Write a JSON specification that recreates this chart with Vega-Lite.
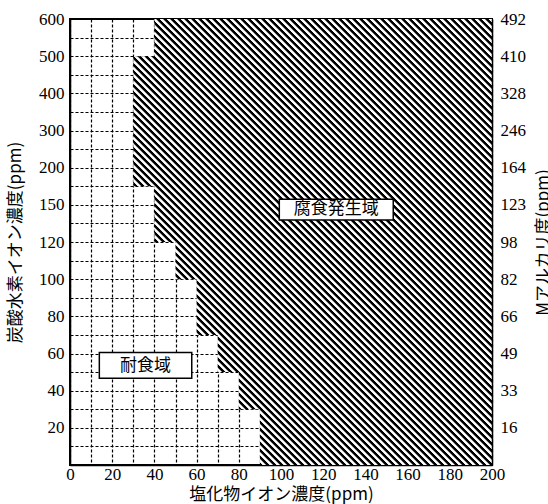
{
  "$schema": "https://vega.github.io/schema/vega-lite/v6.json",
  "width": 422,
  "height": 446,
  "autosize": {"type": "none"},
  "padding": {"left": 70, "top": 19, "right": 56, "bottom": 39},
  "background": "#ffffff",
  "config": {
    "view": {"stroke": "#000", "strokeWidth": 2},
    "axis": {
      "labelFont": "Liberation Sans Narrow",
      "labelFontSize": 17,
      "labelColor": "#000",
      "titleFont": "Noto Sans CJK JP",
      "titleFontSize": 17,
      "titleFontWeight": "normal",
      "titleColor": "#000",
      "ticks": false,
      "tickSize": 0,
      "domainColor": "#000",
      "domainWidth": 1.5,
      "gridColor": "#000",
      "gridDash": [3, 2],
      "gridWidth": 1.2,
      "gridOpacity": 1
    }
  },
  "datasets": {
    "boundary": [
      {"bicarbonate_ppm": 0, "chloride_ppm": 90},
      {"bicarbonate_ppm": 30, "chloride_ppm": 80},
      {"bicarbonate_ppm": 50, "chloride_ppm": 70},
      {"bicarbonate_ppm": 70, "chloride_ppm": 60},
      {"bicarbonate_ppm": 100, "chloride_ppm": 50},
      {"bicarbonate_ppm": 120, "chloride_ppm": 40},
      {"bicarbonate_ppm": 175, "chloride_ppm": 30},
      {"bicarbonate_ppm": 500, "chloride_ppm": 40},
      {"bicarbonate_ppm": 600, "chloride_ppm": 40}
    ],
    "zones": [
      {"name": "腐食発生域", "chloride_ppm": 126.2, "bicarbonate_ppm": 146.5, "box_cl_min": 99.2, "box_cl_max": 153.2, "box_hco3_min": 137.8, "box_hco3_max": 157.4},
      {"name": "耐食域", "chloride_ppm": 35.8, "bicarbonate_ppm": 53.4, "box_cl_min": 13.9, "box_cl_max": 57.7, "box_hco3_min": 46.7, "box_hco3_max": 60.6}
    ]
  },
  "resolve": {"axis": {"x": "independent", "y": "independent"}},
  "layer": [
    {
      "data": {"name": "boundary"},
      "mark": {
        "type": "area",
        "orient": "horizontal",
        "interpolate": "step-after",
        "fill": {
          "gradient": "linear",
          "x1": 0, "y1": 1, "x2": 0.958, "y2": -0.191,
          "stops": [
            {"offset":0.0004,"color":"#000"},{"offset":0.0032,"color":"#000"},{"offset":0.0044,"color":"#fff"},{"offset":0.0072,"color":"#fff"},
            {"offset":0.0084,"color":"#000"},{"offset":0.0112,"color":"#000"},{"offset":0.0124,"color":"#fff"},{"offset":0.0152,"color":"#fff"},
            {"offset":0.0164,"color":"#000"},{"offset":0.0192,"color":"#000"},{"offset":0.0204,"color":"#fff"},{"offset":0.0232,"color":"#fff"},
            {"offset":0.0244,"color":"#000"},{"offset":0.0272,"color":"#000"},{"offset":0.0284,"color":"#fff"},{"offset":0.0312,"color":"#fff"},
            {"offset":0.0324,"color":"#000"},{"offset":0.0352,"color":"#000"},{"offset":0.0364,"color":"#fff"},{"offset":0.0392,"color":"#fff"},
            {"offset":0.0404,"color":"#000"},{"offset":0.0432,"color":"#000"},{"offset":0.0444,"color":"#fff"},{"offset":0.0472,"color":"#fff"},
            {"offset":0.0484,"color":"#000"},{"offset":0.0512,"color":"#000"},{"offset":0.0524,"color":"#fff"},{"offset":0.0552,"color":"#fff"},
            {"offset":0.0564,"color":"#000"},{"offset":0.0592,"color":"#000"},{"offset":0.0604,"color":"#fff"},{"offset":0.0632,"color":"#fff"},
            {"offset":0.0644,"color":"#000"},{"offset":0.0672,"color":"#000"},{"offset":0.0684,"color":"#fff"},{"offset":0.0712,"color":"#fff"},
            {"offset":0.0724,"color":"#000"},{"offset":0.0752,"color":"#000"},{"offset":0.0764,"color":"#fff"},{"offset":0.0792,"color":"#fff"},
            {"offset":0.0804,"color":"#000"},{"offset":0.0832,"color":"#000"},{"offset":0.0844,"color":"#fff"},{"offset":0.0872,"color":"#fff"},
            {"offset":0.0884,"color":"#000"},{"offset":0.0912,"color":"#000"},{"offset":0.0924,"color":"#fff"},{"offset":0.0952,"color":"#fff"},
            {"offset":0.0964,"color":"#000"},{"offset":0.0992,"color":"#000"},{"offset":0.1004,"color":"#fff"},{"offset":0.1032,"color":"#fff"},
            {"offset":0.1044,"color":"#000"},{"offset":0.1072,"color":"#000"},{"offset":0.1084,"color":"#fff"},{"offset":0.1112,"color":"#fff"},
            {"offset":0.1124,"color":"#000"},{"offset":0.1152,"color":"#000"},{"offset":0.1164,"color":"#fff"},{"offset":0.1192,"color":"#fff"},
            {"offset":0.1204,"color":"#000"},{"offset":0.1232,"color":"#000"},{"offset":0.1244,"color":"#fff"},{"offset":0.1272,"color":"#fff"},
            {"offset":0.1284,"color":"#000"},{"offset":0.1312,"color":"#000"},{"offset":0.1324,"color":"#fff"},{"offset":0.1352,"color":"#fff"},
            {"offset":0.1364,"color":"#000"},{"offset":0.1392,"color":"#000"},{"offset":0.1404,"color":"#fff"},{"offset":0.1432,"color":"#fff"},
            {"offset":0.1444,"color":"#000"},{"offset":0.1472,"color":"#000"},{"offset":0.1484,"color":"#fff"},{"offset":0.1512,"color":"#fff"},
            {"offset":0.1524,"color":"#000"},{"offset":0.1552,"color":"#000"},{"offset":0.1564,"color":"#fff"},{"offset":0.1592,"color":"#fff"},
            {"offset":0.1604,"color":"#000"},{"offset":0.1632,"color":"#000"},{"offset":0.1644,"color":"#fff"},{"offset":0.1672,"color":"#fff"},
            {"offset":0.1684,"color":"#000"},{"offset":0.1712,"color":"#000"},{"offset":0.1724,"color":"#fff"},{"offset":0.1752,"color":"#fff"},
            {"offset":0.1764,"color":"#000"},{"offset":0.1792,"color":"#000"},{"offset":0.1804,"color":"#fff"},{"offset":0.1832,"color":"#fff"},
            {"offset":0.1844,"color":"#000"},{"offset":0.1872,"color":"#000"},{"offset":0.1884,"color":"#fff"},{"offset":0.1912,"color":"#fff"},
            {"offset":0.1924,"color":"#000"},{"offset":0.1952,"color":"#000"},{"offset":0.1964,"color":"#fff"},{"offset":0.1992,"color":"#fff"},
            {"offset":0.2004,"color":"#000"},{"offset":0.2032,"color":"#000"},{"offset":0.2044,"color":"#fff"},{"offset":0.2072,"color":"#fff"},
            {"offset":0.2084,"color":"#000"},{"offset":0.2112,"color":"#000"},{"offset":0.2124,"color":"#fff"},{"offset":0.2152,"color":"#fff"},
            {"offset":0.2164,"color":"#000"},{"offset":0.2192,"color":"#000"},{"offset":0.2204,"color":"#fff"},{"offset":0.2232,"color":"#fff"},
            {"offset":0.2244,"color":"#000"},{"offset":0.2272,"color":"#000"},{"offset":0.2284,"color":"#fff"},{"offset":0.2312,"color":"#fff"},
            {"offset":0.2324,"color":"#000"},{"offset":0.2352,"color":"#000"},{"offset":0.2364,"color":"#fff"},{"offset":0.2392,"color":"#fff"},
            {"offset":0.2404,"color":"#000"},{"offset":0.2432,"color":"#000"},{"offset":0.2444,"color":"#fff"},{"offset":0.2472,"color":"#fff"},
            {"offset":0.2484,"color":"#000"},{"offset":0.2512,"color":"#000"},{"offset":0.2524,"color":"#fff"},{"offset":0.2552,"color":"#fff"},
            {"offset":0.2564,"color":"#000"},{"offset":0.2592,"color":"#000"},{"offset":0.2604,"color":"#fff"},{"offset":0.2632,"color":"#fff"},
            {"offset":0.2644,"color":"#000"},{"offset":0.2672,"color":"#000"},{"offset":0.2684,"color":"#fff"},{"offset":0.2712,"color":"#fff"},
            {"offset":0.2724,"color":"#000"},{"offset":0.2752,"color":"#000"},{"offset":0.2764,"color":"#fff"},{"offset":0.2792,"color":"#fff"},
            {"offset":0.2804,"color":"#000"},{"offset":0.2832,"color":"#000"},{"offset":0.2844,"color":"#fff"},{"offset":0.2872,"color":"#fff"},
            {"offset":0.2884,"color":"#000"},{"offset":0.2912,"color":"#000"},{"offset":0.2924,"color":"#fff"},{"offset":0.2952,"color":"#fff"},
            {"offset":0.2964,"color":"#000"},{"offset":0.2992,"color":"#000"},{"offset":0.3004,"color":"#fff"},{"offset":0.3032,"color":"#fff"},
            {"offset":0.3044,"color":"#000"},{"offset":0.3072,"color":"#000"},{"offset":0.3084,"color":"#fff"},{"offset":0.3112,"color":"#fff"},
            {"offset":0.3124,"color":"#000"},{"offset":0.3152,"color":"#000"},{"offset":0.3164,"color":"#fff"},{"offset":0.3192,"color":"#fff"},
            {"offset":0.3204,"color":"#000"},{"offset":0.3232,"color":"#000"},{"offset":0.3244,"color":"#fff"},{"offset":0.3272,"color":"#fff"},
            {"offset":0.3284,"color":"#000"},{"offset":0.3312,"color":"#000"},{"offset":0.3324,"color":"#fff"},{"offset":0.3352,"color":"#fff"},
            {"offset":0.3364,"color":"#000"},{"offset":0.3392,"color":"#000"},{"offset":0.3404,"color":"#fff"},{"offset":0.3432,"color":"#fff"},
            {"offset":0.3444,"color":"#000"},{"offset":0.3472,"color":"#000"},{"offset":0.3484,"color":"#fff"},{"offset":0.3512,"color":"#fff"},
            {"offset":0.3524,"color":"#000"},{"offset":0.3552,"color":"#000"},{"offset":0.3564,"color":"#fff"},{"offset":0.3592,"color":"#fff"},
            {"offset":0.3604,"color":"#000"},{"offset":0.3632,"color":"#000"},{"offset":0.3644,"color":"#fff"},{"offset":0.3672,"color":"#fff"},
            {"offset":0.3684,"color":"#000"},{"offset":0.3712,"color":"#000"},{"offset":0.3724,"color":"#fff"},{"offset":0.3752,"color":"#fff"},
            {"offset":0.3764,"color":"#000"},{"offset":0.3792,"color":"#000"},{"offset":0.3804,"color":"#fff"},{"offset":0.3832,"color":"#fff"},
            {"offset":0.3844,"color":"#000"},{"offset":0.3872,"color":"#000"},{"offset":0.3884,"color":"#fff"},{"offset":0.3912,"color":"#fff"},
            {"offset":0.3924,"color":"#000"},{"offset":0.3952,"color":"#000"},{"offset":0.3964,"color":"#fff"},{"offset":0.3992,"color":"#fff"},
            {"offset":0.4004,"color":"#000"},{"offset":0.4032,"color":"#000"},{"offset":0.4044,"color":"#fff"},{"offset":0.4072,"color":"#fff"},
            {"offset":0.4084,"color":"#000"},{"offset":0.4112,"color":"#000"},{"offset":0.4124,"color":"#fff"},{"offset":0.4152,"color":"#fff"},
            {"offset":0.4164,"color":"#000"},{"offset":0.4192,"color":"#000"},{"offset":0.4204,"color":"#fff"},{"offset":0.4232,"color":"#fff"},
            {"offset":0.4244,"color":"#000"},{"offset":0.4272,"color":"#000"},{"offset":0.4284,"color":"#fff"},{"offset":0.4312,"color":"#fff"},
            {"offset":0.4324,"color":"#000"},{"offset":0.4352,"color":"#000"},{"offset":0.4364,"color":"#fff"},{"offset":0.4392,"color":"#fff"},
            {"offset":0.4404,"color":"#000"},{"offset":0.4432,"color":"#000"},{"offset":0.4444,"color":"#fff"},{"offset":0.4472,"color":"#fff"},
            {"offset":0.4484,"color":"#000"},{"offset":0.4512,"color":"#000"},{"offset":0.4524,"color":"#fff"},{"offset":0.4552,"color":"#fff"},
            {"offset":0.4564,"color":"#000"},{"offset":0.4592,"color":"#000"},{"offset":0.4604,"color":"#fff"},{"offset":0.4632,"color":"#fff"},
            {"offset":0.4644,"color":"#000"},{"offset":0.4672,"color":"#000"},{"offset":0.4684,"color":"#fff"},{"offset":0.4712,"color":"#fff"},
            {"offset":0.4724,"color":"#000"},{"offset":0.4752,"color":"#000"},{"offset":0.4764,"color":"#fff"},{"offset":0.4792,"color":"#fff"},
            {"offset":0.4804,"color":"#000"},{"offset":0.4832,"color":"#000"},{"offset":0.4844,"color":"#fff"},{"offset":0.4872,"color":"#fff"},
            {"offset":0.4884,"color":"#000"},{"offset":0.4912,"color":"#000"},{"offset":0.4924,"color":"#fff"},{"offset":0.4952,"color":"#fff"},
            {"offset":0.4964,"color":"#000"},{"offset":0.4992,"color":"#000"},{"offset":0.5004,"color":"#fff"},{"offset":0.5032,"color":"#fff"},
            {"offset":0.5044,"color":"#000"},{"offset":0.5072,"color":"#000"},{"offset":0.5084,"color":"#fff"},{"offset":0.5112,"color":"#fff"},
            {"offset":0.5124,"color":"#000"},{"offset":0.5152,"color":"#000"},{"offset":0.5164,"color":"#fff"},{"offset":0.5192,"color":"#fff"},
            {"offset":0.5204,"color":"#000"},{"offset":0.5232,"color":"#000"},{"offset":0.5244,"color":"#fff"},{"offset":0.5272,"color":"#fff"},
            {"offset":0.5284,"color":"#000"},{"offset":0.5312,"color":"#000"},{"offset":0.5324,"color":"#fff"},{"offset":0.5352,"color":"#fff"},
            {"offset":0.5364,"color":"#000"},{"offset":0.5392,"color":"#000"},{"offset":0.5404,"color":"#fff"},{"offset":0.5432,"color":"#fff"},
            {"offset":0.5444,"color":"#000"},{"offset":0.5472,"color":"#000"},{"offset":0.5484,"color":"#fff"},{"offset":0.5512,"color":"#fff"},
            {"offset":0.5524,"color":"#000"},{"offset":0.5552,"color":"#000"},{"offset":0.5564,"color":"#fff"},{"offset":0.5592,"color":"#fff"},
            {"offset":0.5604,"color":"#000"},{"offset":0.5632,"color":"#000"},{"offset":0.5644,"color":"#fff"},{"offset":0.5672,"color":"#fff"},
            {"offset":0.5684,"color":"#000"},{"offset":0.5712,"color":"#000"},{"offset":0.5724,"color":"#fff"},{"offset":0.5752,"color":"#fff"},
            {"offset":0.5764,"color":"#000"},{"offset":0.5792,"color":"#000"},{"offset":0.5804,"color":"#fff"},{"offset":0.5832,"color":"#fff"},
            {"offset":0.5844,"color":"#000"},{"offset":0.5872,"color":"#000"},{"offset":0.5884,"color":"#fff"},{"offset":0.5912,"color":"#fff"},
            {"offset":0.5924,"color":"#000"},{"offset":0.5952,"color":"#000"},{"offset":0.5964,"color":"#fff"},{"offset":0.5992,"color":"#fff"},
            {"offset":0.6004,"color":"#000"},{"offset":0.6032,"color":"#000"},{"offset":0.6044,"color":"#fff"},{"offset":0.6072,"color":"#fff"},
            {"offset":0.6084,"color":"#000"},{"offset":0.6112,"color":"#000"},{"offset":0.6124,"color":"#fff"},{"offset":0.6152,"color":"#fff"},
            {"offset":0.6164,"color":"#000"},{"offset":0.6192,"color":"#000"},{"offset":0.6204,"color":"#fff"},{"offset":0.6232,"color":"#fff"},
            {"offset":0.6244,"color":"#000"},{"offset":0.6272,"color":"#000"},{"offset":0.6284,"color":"#fff"},{"offset":0.6312,"color":"#fff"},
            {"offset":0.6324,"color":"#000"},{"offset":0.6352,"color":"#000"},{"offset":0.6364,"color":"#fff"},{"offset":0.6392,"color":"#fff"},
            {"offset":0.6404,"color":"#000"},{"offset":0.6432,"color":"#000"},{"offset":0.6444,"color":"#fff"},{"offset":0.6472,"color":"#fff"},
            {"offset":0.6484,"color":"#000"},{"offset":0.6512,"color":"#000"},{"offset":0.6524,"color":"#fff"},{"offset":0.6552,"color":"#fff"},
            {"offset":0.6564,"color":"#000"},{"offset":0.6592,"color":"#000"},{"offset":0.6604,"color":"#fff"},{"offset":0.6632,"color":"#fff"},
            {"offset":0.6644,"color":"#000"},{"offset":0.6672,"color":"#000"},{"offset":0.6684,"color":"#fff"},{"offset":0.6712,"color":"#fff"},
            {"offset":0.6724,"color":"#000"},{"offset":0.6752,"color":"#000"},{"offset":0.6764,"color":"#fff"},{"offset":0.6792,"color":"#fff"},
            {"offset":0.6804,"color":"#000"},{"offset":0.6832,"color":"#000"},{"offset":0.6844,"color":"#fff"},{"offset":0.6872,"color":"#fff"},
            {"offset":0.6884,"color":"#000"},{"offset":0.6912,"color":"#000"},{"offset":0.6924,"color":"#fff"},{"offset":0.6952,"color":"#fff"},
            {"offset":0.6964,"color":"#000"},{"offset":0.6992,"color":"#000"},{"offset":0.7004,"color":"#fff"},{"offset":0.7032,"color":"#fff"},
            {"offset":0.7044,"color":"#000"},{"offset":0.7072,"color":"#000"},{"offset":0.7084,"color":"#fff"},{"offset":0.7112,"color":"#fff"},
            {"offset":0.7124,"color":"#000"},{"offset":0.7152,"color":"#000"},{"offset":0.7164,"color":"#fff"},{"offset":0.7192,"color":"#fff"},
            {"offset":0.7204,"color":"#000"},{"offset":0.7232,"color":"#000"},{"offset":0.7244,"color":"#fff"},{"offset":0.7272,"color":"#fff"},
            {"offset":0.7284,"color":"#000"},{"offset":0.7312,"color":"#000"},{"offset":0.7324,"color":"#fff"},{"offset":0.7352,"color":"#fff"},
            {"offset":0.7364,"color":"#000"},{"offset":0.7392,"color":"#000"},{"offset":0.7404,"color":"#fff"},{"offset":0.7432,"color":"#fff"},
            {"offset":0.7444,"color":"#000"},{"offset":0.7472,"color":"#000"},{"offset":0.7484,"color":"#fff"},{"offset":0.7512,"color":"#fff"},
            {"offset":0.7524,"color":"#000"},{"offset":0.7552,"color":"#000"},{"offset":0.7564,"color":"#fff"},{"offset":0.7592,"color":"#fff"},
            {"offset":0.7604,"color":"#000"},{"offset":0.7632,"color":"#000"},{"offset":0.7644,"color":"#fff"},{"offset":0.7672,"color":"#fff"},
            {"offset":0.7684,"color":"#000"},{"offset":0.7712,"color":"#000"},{"offset":0.7724,"color":"#fff"},{"offset":0.7752,"color":"#fff"},
            {"offset":0.7764,"color":"#000"},{"offset":0.7792,"color":"#000"},{"offset":0.7804,"color":"#fff"},{"offset":0.7832,"color":"#fff"},
            {"offset":0.7844,"color":"#000"},{"offset":0.7872,"color":"#000"},{"offset":0.7884,"color":"#fff"},{"offset":0.7912,"color":"#fff"},
            {"offset":0.7924,"color":"#000"},{"offset":0.7952,"color":"#000"},{"offset":0.7964,"color":"#fff"},{"offset":0.7992,"color":"#fff"},
            {"offset":0.8004,"color":"#000"},{"offset":0.8032,"color":"#000"},{"offset":0.8044,"color":"#fff"},{"offset":0.8072,"color":"#fff"},
            {"offset":0.8084,"color":"#000"},{"offset":0.8112,"color":"#000"},{"offset":0.8124,"color":"#fff"},{"offset":0.8152,"color":"#fff"},
            {"offset":0.8164,"color":"#000"},{"offset":0.8192,"color":"#000"},{"offset":0.8204,"color":"#fff"},{"offset":0.8232,"color":"#fff"},
            {"offset":0.8244,"color":"#000"},{"offset":0.8272,"color":"#000"},{"offset":0.8284,"color":"#fff"},{"offset":0.8312,"color":"#fff"},
            {"offset":0.8324,"color":"#000"},{"offset":0.8352,"color":"#000"},{"offset":0.8364,"color":"#fff"},{"offset":0.8392,"color":"#fff"},
            {"offset":0.8404,"color":"#000"},{"offset":0.8432,"color":"#000"},{"offset":0.8444,"color":"#fff"},{"offset":0.8472,"color":"#fff"},
            {"offset":0.8484,"color":"#000"},{"offset":0.8512,"color":"#000"},{"offset":0.8524,"color":"#fff"},{"offset":0.8552,"color":"#fff"},
            {"offset":0.8564,"color":"#000"},{"offset":0.8592,"color":"#000"},{"offset":0.8604,"color":"#fff"},{"offset":0.8632,"color":"#fff"},
            {"offset":0.8644,"color":"#000"},{"offset":0.8672,"color":"#000"},{"offset":0.8684,"color":"#fff"},{"offset":0.8712,"color":"#fff"},
            {"offset":0.8724,"color":"#000"},{"offset":0.8752,"color":"#000"},{"offset":0.8764,"color":"#fff"},{"offset":0.8792,"color":"#fff"},
            {"offset":0.8804,"color":"#000"},{"offset":0.8832,"color":"#000"},{"offset":0.8844,"color":"#fff"},{"offset":0.8872,"color":"#fff"},
            {"offset":0.8884,"color":"#000"},{"offset":0.8912,"color":"#000"},{"offset":0.8924,"color":"#fff"},{"offset":0.8952,"color":"#fff"},
            {"offset":0.8964,"color":"#000"},{"offset":0.8992,"color":"#000"},{"offset":0.9004,"color":"#fff"},{"offset":0.9032,"color":"#fff"},
            {"offset":0.9044,"color":"#000"},{"offset":0.9072,"color":"#000"},{"offset":0.9084,"color":"#fff"},{"offset":0.9112,"color":"#fff"},
            {"offset":0.9124,"color":"#000"},{"offset":0.9152,"color":"#000"},{"offset":0.9164,"color":"#fff"},{"offset":0.9192,"color":"#fff"},
            {"offset":0.9204,"color":"#000"},{"offset":0.9232,"color":"#000"},{"offset":0.9244,"color":"#fff"},{"offset":0.9272,"color":"#fff"},
            {"offset":0.9284,"color":"#000"},{"offset":0.9312,"color":"#000"},{"offset":0.9324,"color":"#fff"},{"offset":0.9352,"color":"#fff"},
            {"offset":0.9364,"color":"#000"},{"offset":0.9392,"color":"#000"},{"offset":0.9404,"color":"#fff"},{"offset":0.9432,"color":"#fff"},
            {"offset":0.9444,"color":"#000"},{"offset":0.9472,"color":"#000"},{"offset":0.9484,"color":"#fff"},{"offset":0.9512,"color":"#fff"},
            {"offset":0.9524,"color":"#000"},{"offset":0.9552,"color":"#000"},{"offset":0.9564,"color":"#fff"},{"offset":0.9592,"color":"#fff"}
          ]
        }
      },
      "encoding": {
        "y": {
          "field": "bicarbonate_ppm",
          "type": "quantitative",
          "scale": {
            "type": "linear",
            "domain": [0, 20, 40, 60, 80, 100, 120, 150, 200, 300, 400, 500, 600],
            "range": [446, 408.833, 371.667, 334.5, 297.333, 260.167, 223, 185.833, 148.667, 111.5, 74.333, 37.167, 0],
            "nice": false,
            "zero": false
          },
          "axis": {
            "orient": "left",
            "values": [10, 20, 30, 40, 50, 60, 70, 80, 90, 100, 110, 120, 135, 150, 175, 200, 250, 300, 350, 400, 450, 500, 550, 600],
            "labelExpr": "indexof([20, 40, 60, 80, 100, 120, 150, 200, 300, 400, 500, 600], datum.value) >= 0 ? datum.label : ''",
            "grid": true,
            "domain": true,
            "labelPadding": 6,
            "title": "炭酸水素イオン濃度(ppm)",
            "titlePadding": 14
          }
        },
        "x": {
          "field": "chloride_ppm",
          "type": "quantitative",
          "stack": null,
          "scale": {"domain": [0, 200], "nice": false, "zero": false},
          "axis": {
            "orient": "bottom",
            "values": [0, 10, 20, 30, 40, 50, 60, 70, 80, 90, 100, 110, 120, 130, 140, 150, 160, 170, 180, 190, 200],
            "labelExpr": "datum.value % 20 === 0 ? datum.label : ''",
            "grid": true,
            "domain": true,
            "labelPadding": 1,
            "labelFlush": false,
            "labelOverlap": false,
            "title": "塩化物イオン濃度(ppm)",
            "titlePadding": 4
          }
        },
        "x2": {"datum": 200}
      }
    },
    {
      "data": {"name": "zones"},
      "mark": {"type": "rect", "fill": "#fff", "stroke": "#000", "strokeWidth": 1.5},
      "encoding": {
        "x": {"field": "box_cl_min", "type": "quantitative", "scale": {"domain": [0, 200], "nice": false, "zero": false}, "axis": null},
        "x2": {"field": "box_cl_max"},
        "y": {
          "field": "box_hco3_min",
          "type": "quantitative",
          "scale": {
            "type": "linear",
            "domain": [0, 20, 40, 60, 80, 100, 120, 150, 200, 300, 400, 500, 600],
            "range": [446, 408.833, 371.667, 334.5, 297.333, 260.167, 223, 185.833, 148.667, 111.5, 74.333, 37.167, 0],
            "nice": false,
            "zero": false
          },
          "axis": {
            "orient": "right",
            "values": [20, 40, 60, 80, 100, 120, 150, 200, 300, 400, 500, 600],
            "labelExpr": "['16', '33', '49', '66', '82', '98', '123', '164', '246', '328', '410', '492'][indexof([20, 40, 60, 80, 100, 120, 150, 200, 300, 400, 500, 600], datum.value)]",
            "grid": false,
            "domain": true,
            "zindex": 1,
            "labelPadding": 8,
            "title": "Mアルカリ度(ppm)",
            "titleAngle": -90,
            "titleBaseline": "top",
            "titlePadding": 10
          }
        },
        "y2": {"field": "box_hco3_max"}
      }
    },
    {
      "data": {"name": "zones"},
      "mark": {"type": "text", "font": "Noto Sans CJK JP", "fontSize": 17, "color": "#000", "align": "center", "baseline": "middle"},
      "encoding": {
        "x": {"field": "chloride_ppm", "type": "quantitative", "scale": {"domain": [0, 200], "nice": false, "zero": false}, "axis": null},
        "y": {
          "field": "bicarbonate_ppm",
          "type": "quantitative",
          "scale": {
            "type": "linear",
            "domain": [0, 20, 40, 60, 80, 100, 120, 150, 200, 300, 400, 500, 600],
            "range": [446, 408.833, 371.667, 334.5, 297.333, 260.167, 223, 185.833, 148.667, 111.5, 74.333, 37.167, 0],
            "nice": false,
            "zero": false
          },
          "axis": null
        },
        "text": {"field": "name"}
      }
    }
  ]
}
